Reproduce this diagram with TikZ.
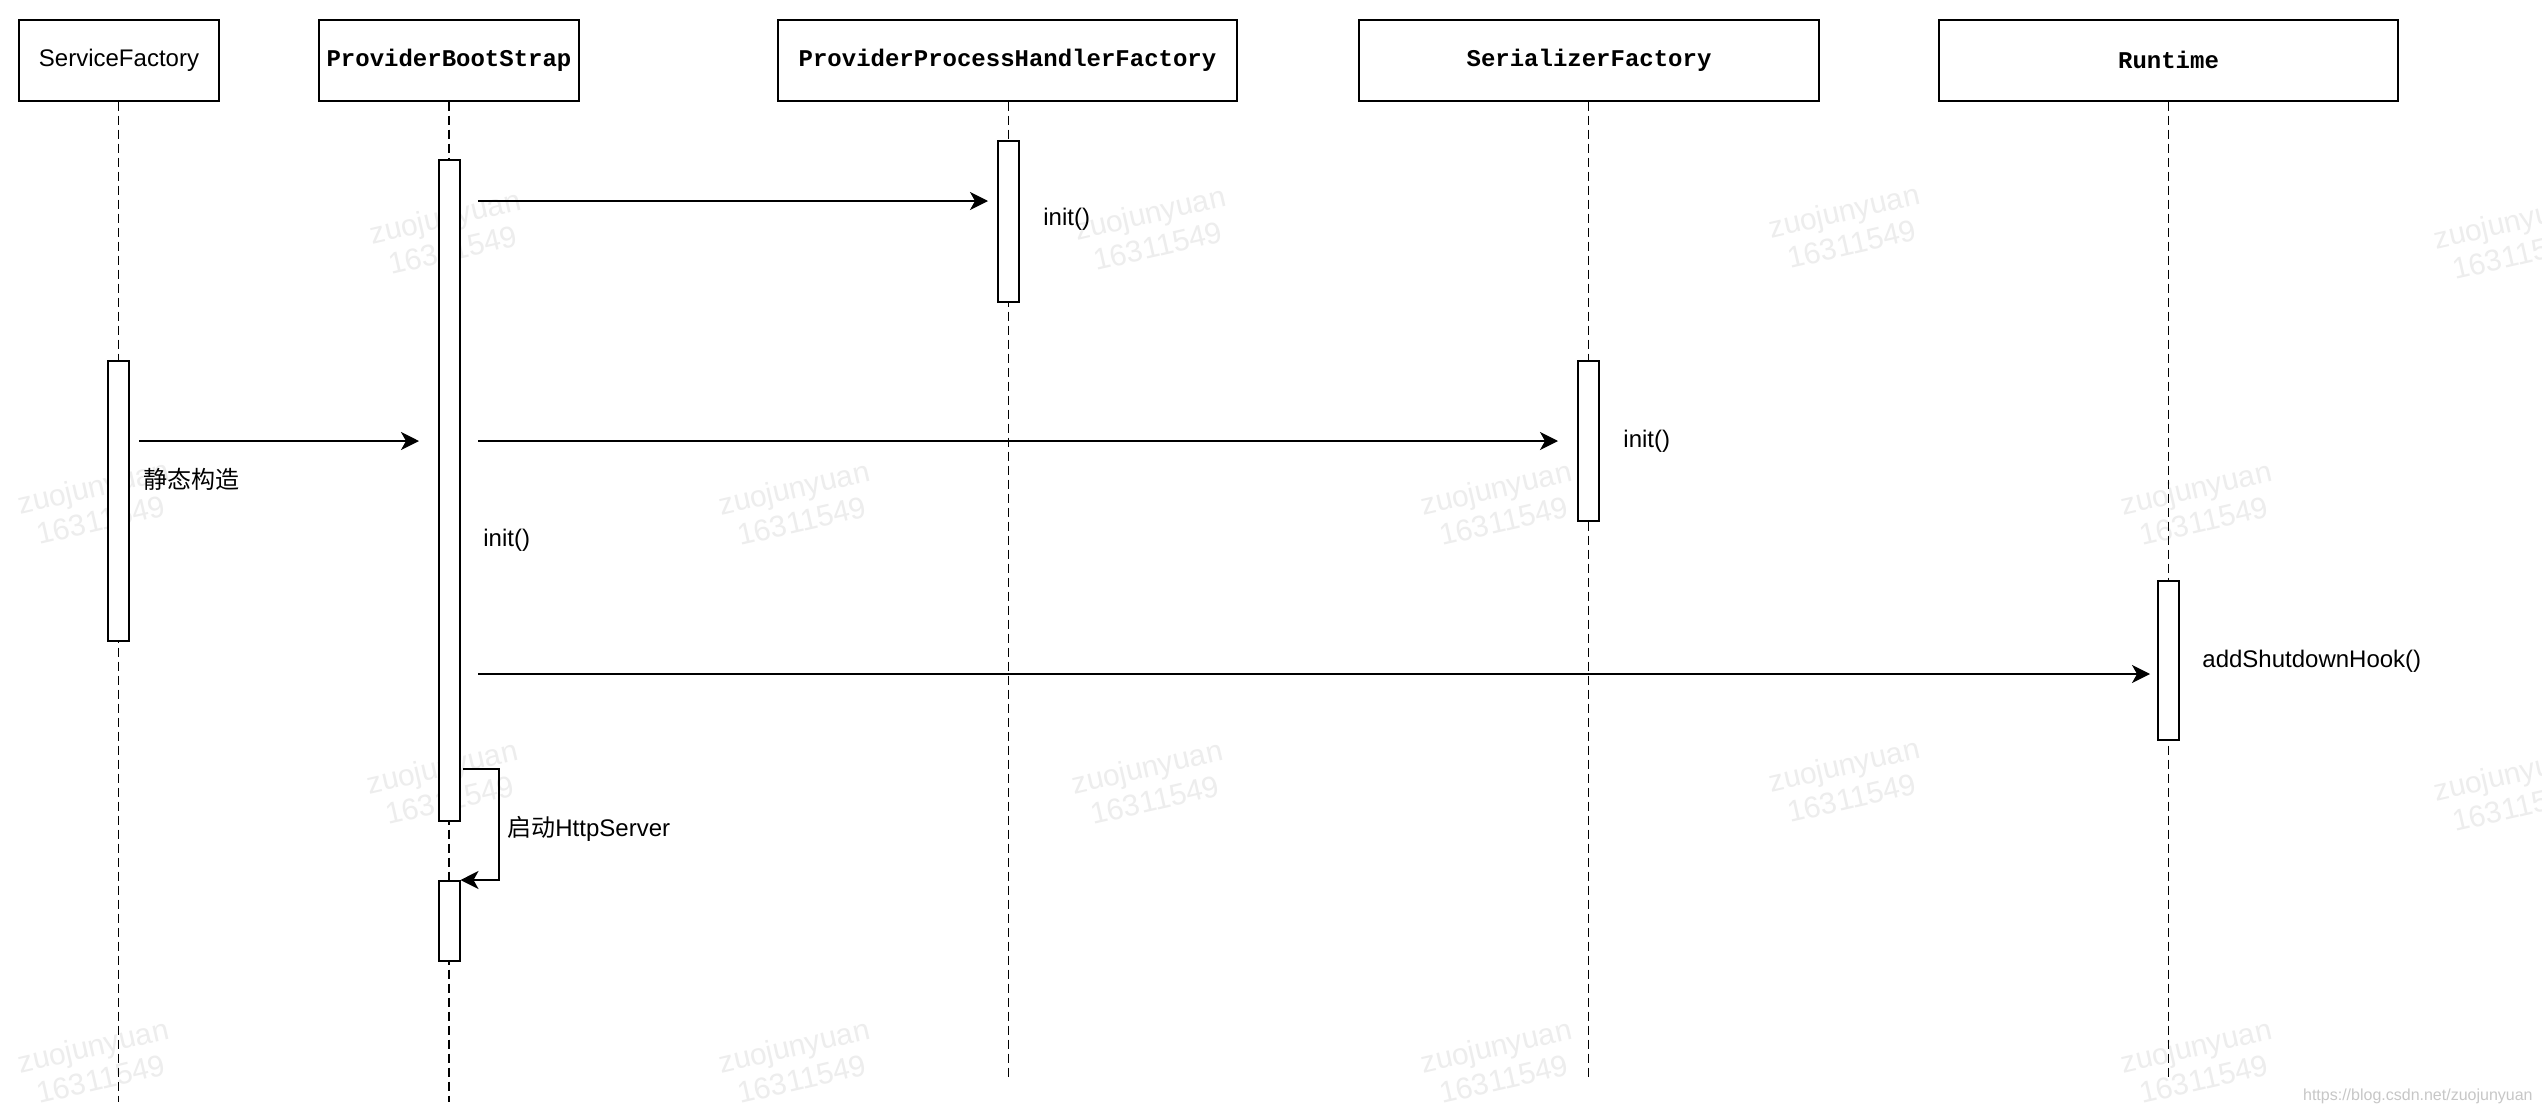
\documentclass[tikz,border=0pt]{standalone}
\usepackage{fontspec}
\setmainfont{Liberation Sans}
\newfontfamily\monofont{Liberation Mono}
\newfontfamily\cjk{Noto Sans CJK SC}
\usetikzlibrary{arrows.meta}
\begin{document}
\begin{tikzpicture}[x=0.5pt,y=-0.5pt,
  head/.style={draw,line width=1pt,fill=white,minimum height=40.5pt,inner sep=0pt,font=\fontsize{12}{14}\selectfont\monofont\bfseries},
  life/.style={line width=0.75pt,dash pattern=on 4.5pt off 2.5pt},
  actbar/.style={draw,line width=1pt,fill=white,minimum width=10.5pt,inner sep=0pt},
  msg/.style={line width=1pt,-{Stealth[length=9pt,width=9pt,inset=2.5pt]}},
  lbl/.style={anchor=west,inner sep=0pt,font=\fontsize{12}{14}\selectfont},
  wmark/.style={align=center,rotate=13,text=black!7,inner sep=0pt,font=\fontsize{15}{17}\selectfont}]
\useasboundingbox (0,0) rectangle (2542,1114);
\fill[white] (0,0) rectangle (2542,1114);
% watermarks
\foreach \wx/\wy [count=\i] in {449/233,1154/229,1848/227,2513/238,97/503,798/504,1500/504,2200/504,446/783,1151/783,1848/781,2513/790,97/1062,798/1062,1500/1062,2200/1062}
  \node[wmark] (wm\i) at (\wx,\wy) {zuojunyuan\\16311549};
% headers
\node[head,minimum width=100pt,font=\fontsize{12}{14}\selectfont] (sf) at (119,60) {ServiceFactory};
\node[head,minimum width=130pt] (pbs) at (449,60) {ProviderBootStrap};
\node[head,minimum width=229.5pt] (pphf) at (1007.5,60) {ProviderProcessHandlerFactory};
\node[head,minimum width=230pt] (sz) at (1589,60) {SerializerFactory};
\node[head,minimum width=229.5pt] (rt) at (2168.5,60) {Runtime};
% lifeline ends
\coordinate (sfend) at (118.5,1102);
\coordinate (pbsend) at (449,1102);
\coordinate (pphfend) at (1008.5,1078);
\coordinate (szend) at (1588.5,1078);
\coordinate (rtend) at (2168.5,1078);
\draw[life] (sf.south -| sfend) -- (sfend);
\draw[life] (pbs.south -| pbsend) -- (pbsend);
\draw[life] (pphf.south -| pphfend) -- (pphfend);
\draw[life] (sz.south -| szend) -- (szend);
\draw[life] (rt.south -| rtend) -- (rtend);
% activation bars
\node[actbar,minimum height=140pt] (sfb) at (118.5,501) {};
\node[actbar,minimum height=330.5pt] (pbs1) at (449,490.5) {};
\node[actbar,minimum height=40pt] (pbs2) at (449,921) {};
\node[actbar,minimum height=80.5pt] (pphfb) at (1008.5,221.5) {};
\node[actbar,minimum height=80pt] (szb) at (1588.5,441) {};
\node[actbar,minimum height=79.5pt] (rtb) at (2168.5,660.5) {};
% messages
\coordinate (m1s) at (478,201); \coordinate (m1e) at (988,201);
\draw[msg] (m1s) -- (m1e);
\coordinate (m2s) at (139,441); \coordinate (m2e) at (419,441);
\draw[msg] (m2s) -- (m2e);
\coordinate (m3s) at (478,441); \coordinate (m3e) at (1558,441);
\draw[msg] (m3s) -- (m3e);
\coordinate (m4s) at (478,674); \coordinate (m4e) at (2150,674);
\draw[msg] (m4s) -- (m4e);
\coordinate (selfs) at (463,769); \coordinate (selfc) at (499,769);
\draw[msg] (selfs) -- (selfc) |- (pbs2.north east);
% labels
\node[lbl] (l1) at (1043,219) {init()};
\node[lbl] (l2) at (143,479) {\cjk 静态构造};
\node[lbl] (l3) at (1623,441) {init()};
\node[lbl] (l4) at (483,540) {init()};
\node[lbl] (l5) at (2202,661) {addShutdownHook()};
\node[lbl] (l6) at (507,829) {{\cjk 启动}HttpServer};
\node[anchor=east,inner sep=0pt,text=black!22,font=\fontsize{8}{10}\selectfont] (url) at (2533,1096) {https://blog.csdn.net/zuojunyuan};
\end{tikzpicture}
\end{document}
